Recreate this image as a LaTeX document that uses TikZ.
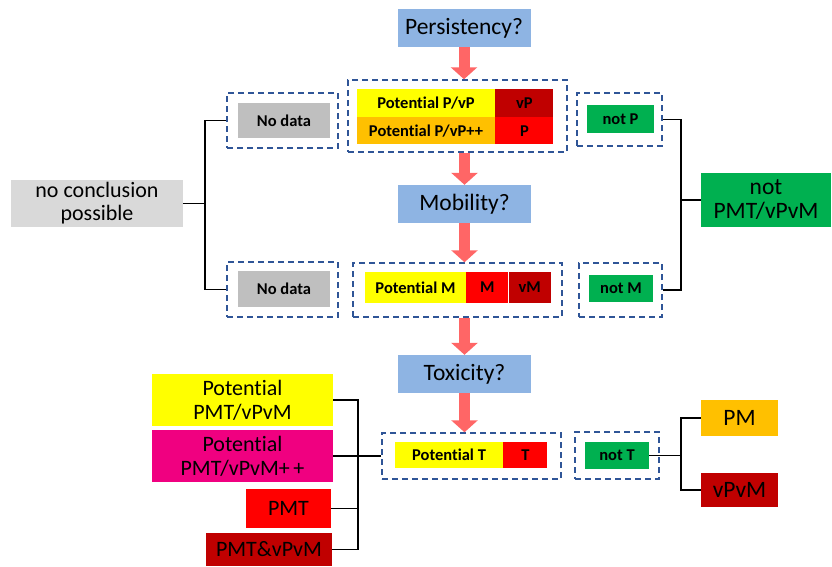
\documentclass[tikz,border=0pt]{standalone}
\usepackage{fontspec}
\setmainfont{Carlito}[Ligatures=NoCommon]
\usetikzlibrary{arrows.meta, positioning}
\definecolor{qblue}{RGB}{142,180,227}
\definecolor{dashblue}{RGB}{47,85,151}
\definecolor{flowred}{RGB}{255,102,102}
\definecolor{pyellow}{RGB}{255,255,0}
\definecolor{porange}{RGB}{255,192,0}
\definecolor{pred}{RGB}{255,0,0}
\definecolor{pdark}{RGB}{192,0,0}
\definecolor{pgreen}{RGB}{0,176,80}
\definecolor{pgray}{RGB}{191,191,191}
\definecolor{plight}{RGB}{217,217,217}
\definecolor{pmagenta}{RGB}{240,0,128}

\begin{document}
\begin{tikzpicture}[x=1pt, y=-1pt,
    question/.style={rectangle, fill=qblue, inner sep=0pt, minimum width=133pt, minimum height=38pt, font=\fontsize{23.5}{26}\selectfont},
    cell/.style={rectangle, inner sep=0pt, minimum height=28pt, font=\bfseries\fontsize{16.5}{18}\selectfont},
    result/.style={rectangle, inner sep=0pt, align=center, font=\fontsize{22}{24}\selectfont},
    group/.style={rectangle, draw=dashblue, line width=1.5pt, dash pattern=on 6pt off 4pt, inner sep=0pt},
    bigarrow/.style={-{Triangle[width=26pt,length=12pt]}, line width=11pt, draw=flowred},
    link/.style={draw=black, line width=1.3pt},
]
    \useasboundingbox (0,0) rectangle (832,566);

    % main column
    \node[question] (persist) at (464,28) {Persistency?};
    \node[question] (mobil) at (464.5,204) {Mobility?};
    \node[question] (tox) at (464.5,374) {Toxicity?};

    % persistency results
    \node[group, minimum width=219pt, minimum height=72pt] (pgroup) at (457.5,116) {};
    \node[cell, fill=pyellow, minimum width=138pt] (potP) at (426,103) {Potential P/vP};
    \node[cell, fill=pdark, minimum width=58pt, right=0pt of potP] (vP) {vP};
    \node[cell, fill=porange, minimum width=138pt, minimum height=27pt, below=0pt of potP] (potPpp) {Potential P/vP++};
    \node[cell, fill=pred, minimum width=58pt, minimum height=27pt, right=0pt of potPpp] (P) {P};

    % mobility results
    \node[group, minimum width=209pt, minimum height=54pt] (mgroup) at (457.5,290) {};
    \node[cell, fill=pyellow, minimum width=101pt, minimum height=31pt] (potM) at (415.5,287.5) {Potential M};
    \node[cell, fill=pred, minimum width=42pt, minimum height=31pt, right=0pt of potM] (M) {M};
    \node[cell, fill=pdark, minimum width=42pt, minimum height=31pt, right=0pt of M] (vM) {vM};

    % toxicity results
    \node[group, minimum width=179pt, minimum height=46pt] (tgroup) at (471.5,456) {};
    \node[cell, fill=pyellow, minimum width=108pt, minimum height=26pt] (potT) at (449,455) {Potential T};
    \node[cell, fill=pred, minimum width=44pt, minimum height=26pt, right=0pt of potT] (T) {T};

    % no data
    \node[group, minimum width=111pt, minimum height=55pt] (nd1group) at (282.5,120.5) {};
    \node[cell, fill=pgray, minimum width=92pt, minimum height=35pt] (nd1) at (284,120.5) {No data};
    \node[group, minimum width=111pt, minimum height=55pt] (nd2group) at (282.5,289.5) {};
    \node[cell, fill=pgray, minimum width=92pt, minimum height=36pt] (nd2) at (284,289) {No data};
    \node[result, fill=plight, minimum width=172pt, minimum height=47pt, font=\fontsize{22}{23}\selectfont] (noconc) at (97,203.5) {no conclusion\\possible};

    % negative results
    \node[group, minimum width=85pt, minimum height=53pt] (notPgroup) at (619.5,119.5) {};
    \node[cell, fill=pgreen, minimum width=67pt] (notP) at (620.5,119) {not P};
    \node[group, minimum width=83pt, minimum height=54pt] (notMgroup) at (620.5,290) {};
    \node[cell, fill=pgreen, minimum width=64pt, minimum height=27pt] (notM) at (621,288.5) {not M};
    \node[group, minimum width=84pt, minimum height=47pt] (notTgroup) at (617,455.5) {};
    \node[cell, fill=pgreen, minimum width=64pt, minimum height=27pt] (notT) at (617,455.5) {not T};
    \node[result, fill=pgreen, minimum width=130pt, minimum height=54pt, font=\fontsize{23.5}{24}\selectfont] (notPMT) at (766,200) {not\\PMT/vPvM};

    % final classes
    \node[result, fill=porange, minimum width=77pt, minimum height=36pt, font=\fontsize{23.5}{24}\selectfont] (PM) at (739.5,418) {PM};
    \node[result, fill=pdark, minimum width=77pt, minimum height=34pt, font=\fontsize{23.5}{24}\selectfont] (vPvM) at (739.5,490) {vPvM};
    \node[result, fill=pyellow, minimum width=181pt, minimum height=52pt] (potPMT) at (242.5,400) {Potential\\PMT/vPvM};
    \node[result, fill=pmagenta, minimum width=181pt, minimum height=52pt] (potPMTpp) at (242.5,456) {Potential\\PMT/vPvM+\,+};
    \node[result, fill=pred, minimum width=85pt, minimum height=39pt] (PMT) at (288.5,508.5) {PMT};
    \node[result, fill=pdark, minimum width=126pt, minimum height=33pt] (PMTvPvM) at (269,549.5) {PMT\&vPvM};

    % flow arrows
    \draw[bigarrow] (persist.south) -- (persist.south |- pgroup.north);
    \draw[bigarrow] (mobil.north |- pgroup.south) -- (mobil.north);
    \draw[bigarrow] (mobil.south) -- (mobil.south |- mgroup.north);
    \draw[bigarrow] (tox.north |- mgroup.south) -- (tox.north);
    \draw[bigarrow] (tox.south) -- (tox.south |- tgroup.north);

    % brackets
    \coordinate (lj) at (205,0);
    \coordinate (rj) at (681,0);
    \coordinate (tj) at (681,0);
    \coordinate (bj) at (358,0);
    \draw[link] (nd1group.west) -| (lj |- nd2group.west) -- (nd2group.west);
    \draw[link] (noconc.east) -- (noconc.east -| lj);
    \draw[link] (notPgroup.east) -| (rj |- notMgroup.east) -- (notMgroup.east);
    \draw[link] (notPMT.west) -- (notPMT.west -| rj);
    \draw[link] (PM.west) -| (tj |- vPvM.west) -- (vPvM.west);
    \draw[link] (notT.east) -- (notT.east -| tj);
    \draw[link] (potPMT.east) -| (bj |- PMTvPvM.east) -- (PMTvPvM.east);
    \draw[link] (potPMTpp.east) -- (tgroup.west);
    \draw[link] (PMT.east) -- (PMT.east -| bj);
\end{tikzpicture}
\end{document}
